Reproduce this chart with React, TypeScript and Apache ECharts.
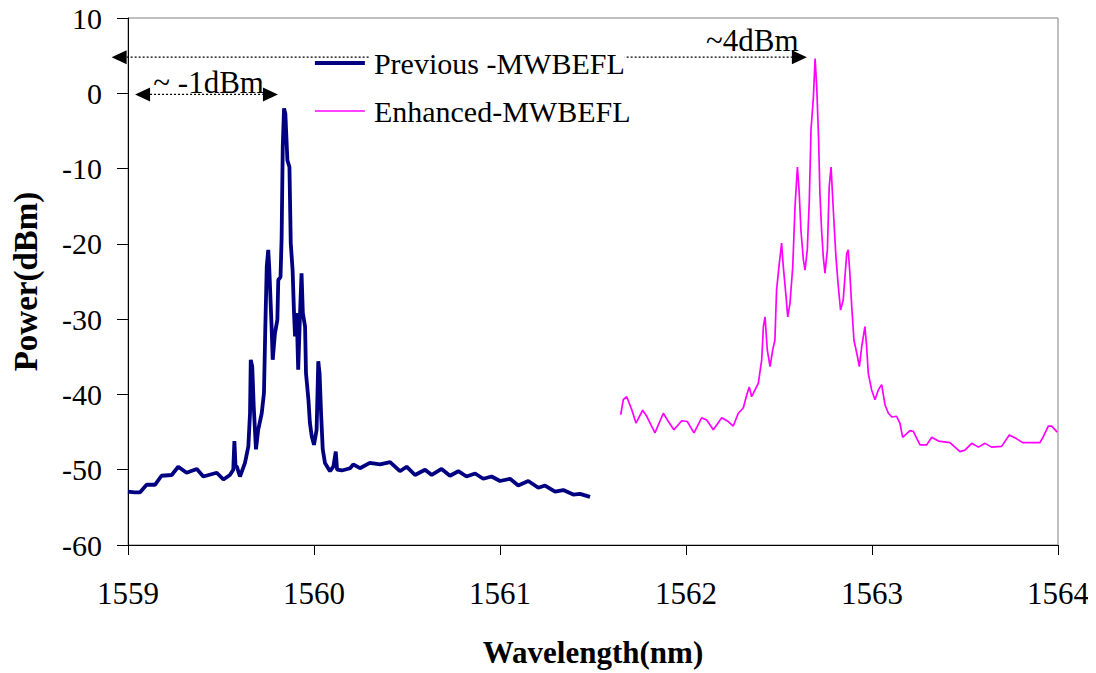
import React, { useEffect, useRef } from "react";
import * as echarts from "echarts";

// ---- Data ----
const seriesNames = ["Previous -MWBEFL", "Enhanced-MWBEFL"];
const seriesColors = ["#000080", "#ff00ff"];

const prevWavelength = [
  1559.0, 1559.035, 1559.065, 1559.1, 1559.145, 1559.18, 1559.235, 1559.27, 1559.315, 1559.37,
  1559.405, 1559.477, 1559.513, 1559.548, 1559.566, 1559.572, 1559.578, 1559.585, 1559.602, 1559.629,
  1559.647, 1559.656, 1559.66, 1559.668, 1559.676, 1559.688, 1559.7, 1559.719, 1559.731, 1559.738,
  1559.746, 1559.754, 1559.76, 1559.772, 1559.778, 1559.79, 1559.803, 1559.808, 1559.82, 1559.826,
  1559.832, 1559.839, 1559.846, 1559.857, 1559.868, 1559.875, 1559.885, 1559.892, 1559.898, 1559.907,
  1559.915, 1559.925, 1559.933, 1559.94, 1559.952, 1559.957, 1559.97, 1559.978, 1559.988, 1560.0,
  1560.014, 1560.023, 1560.03, 1560.038, 1560.047, 1560.059, 1560.086, 1560.104, 1560.117, 1560.124,
  1560.15, 1560.194, 1560.211, 1560.247, 1560.3, 1560.355, 1560.409, 1560.462, 1560.498, 1560.543,
  1560.597, 1560.633, 1560.686, 1560.731, 1560.776, 1560.82, 1560.866, 1560.91, 1560.955, 1561.0,
  1561.054, 1561.098, 1561.152, 1561.206, 1561.242, 1561.296, 1561.34, 1561.394, 1561.43, 1561.484,
];
const prevPower = [
  -52.9, -53.0, -53.0, -52.0, -52.0, -50.8, -50.7, -49.6, -50.4, -49.9,
  -50.9, -50.4, -51.3, -50.7, -50.0, -46.2, -49.5, -49.6, -50.9, -49.1,
  -46.9, -42.5, -35.4, -36.3, -41.6, -47.3, -44.7, -42.5, -39.8, -31.4,
  -23.0, -20.8, -23.5, -31.0, -35.4, -31.9, -30.1, -24.8, -24.4, -19.1,
  -7.1, -2.0, -2.7, -8.9, -9.8, -19.9, -23.5, -28.8, -32.3, -29.2,
  -36.7, -29.2, -23.9, -29.2, -31.0, -37.2, -40.7, -43.8, -45.6, -46.7,
  -44.7, -35.6, -37.2, -42.5, -47.3, -49.1, -50.2, -49.6, -47.6, -50.0,
  -50.1, -49.8, -49.3, -49.8, -49.1, -49.3, -49.0, -50.2, -49.6, -50.7,
  -50.0, -50.7, -49.9, -50.8, -50.2, -50.9, -50.5, -51.2, -50.9, -51.5,
  -51.2, -52.1, -51.5, -52.4, -52.1, -52.9, -52.7, -53.3, -53.2, -53.6,
];

const enhWavelength = [
  1561.649, 1561.663, 1561.681, 1561.708, 1561.731, 1561.767, 1561.789, 1561.833, 1561.878, 1561.905,
  1561.935, 1561.977, 1562.007, 1562.043, 1562.084, 1562.111, 1562.147, 1562.192, 1562.227, 1562.254,
  1562.281, 1562.308, 1562.326, 1562.34, 1562.353, 1562.371, 1562.389, 1562.407, 1562.416, 1562.425,
  1562.437, 1562.452, 1562.466, 1562.478, 1562.487, 1562.5, 1562.514, 1562.523, 1562.538, 1562.547,
  1562.559, 1562.574, 1562.586, 1562.599, 1562.608, 1562.618, 1562.631, 1562.64, 1562.652, 1562.663,
  1562.672, 1562.685, 1562.694, 1562.703, 1562.713, 1562.72, 1562.729, 1562.738, 1562.747, 1562.76,
  1562.77, 1562.78, 1562.792, 1562.806, 1562.819, 1562.831, 1562.845, 1562.864, 1562.872, 1562.881,
  1562.891, 1562.903, 1562.918, 1562.932, 1562.945, 1562.962, 1562.971, 1562.98, 1562.998, 1563.016,
  1563.034, 1563.052, 1563.07, 1563.088, 1563.107, 1563.132, 1563.15, 1563.165, 1563.204, 1563.222,
  1563.258, 1563.294, 1563.321, 1563.357, 1563.419, 1563.473, 1563.5, 1563.536, 1563.572, 1563.608,
  1563.643, 1563.697, 1563.738, 1563.778, 1563.81, 1563.867, 1563.903, 1563.921, 1563.948, 1563.966,
  1563.996,
];
const enhPower = [
  -42.7, -40.7, -40.3, -42.0, -43.8, -42.1, -42.9, -45.1, -42.5, -43.6,
  -44.7, -43.5, -43.6, -45.1, -43.1, -43.4, -44.7, -43.1, -43.6, -44.2,
  -42.5, -41.8, -40.1, -39.0, -40.3, -39.4, -38.5, -35.4, -31.0, -29.7,
  -34.1, -36.3, -34.1, -32.8, -26.1, -23.0, -19.9, -23.0, -27.0, -29.7,
  -27.9, -23.0, -15.1, -9.8, -12.9, -18.2, -22.1, -23.5, -20.8, -14.2,
  -4.9, -0.5, 4.6, 0.8, -6.2, -13.3, -18.2, -21.7, -23.9, -20.8,
  -12.4, -9.8, -15.5, -21.7, -25.7, -28.8, -27.5, -21.3, -20.8, -23.9,
  -28.3, -32.8, -34.5, -36.3, -33.6, -31.0, -33.6, -37.2, -39.4, -40.7,
  -39.4, -38.7, -41.4, -42.5, -43.0, -42.9, -43.8, -45.7, -44.8, -44.9,
  -46.7, -46.7, -45.7, -46.2, -46.4, -47.6, -47.4, -46.5, -47.0, -46.5,
  -47.0, -46.9, -45.4, -45.9, -46.4, -46.4, -46.4, -45.6, -44.2, -44.2,
  -45.0,
];

// axes
const xMin = 1559;
const xMax = 1564;
const xStep = 1;
const yMin = -60;
const yMax = 10;
const yStep = 10;
const xTitle = "Wavelength(nm)";
const yTitle = "Power(dBm)";

// annotations (data coordinates)
const annotTopFrom = [1558.912, 4.8];
const annotTopTo = [1562.65, 4.8];
const annotTopLabel = "~4dBm";
const annotTopLabelX = 1562.108;
const annotLeftFrom = [1559.038, -0.15];
const annotLeftTo = [1559.806, -0.15];
const annotLeftLabel = "~ -1dBm";
const annotLeftLabelX = 1559.136;

const FONT = '"Liberation Serif", "Times New Roman", serif';

function zip(xs: number[], ys: number[]) {
  return xs.map((x, i) => [x, ys[i]]);
}

export default function App() {
  const ref = useRef<HTMLDivElement>(null);

  useEffect(() => {
    if (!ref.current) return;
    const chart = echarts.init(ref.current, null, { renderer: "svg" });
    const option: any = {
      animation: false,
      backgroundColor: "#ffffff",
      grid: {
        left: 128,
        right: 38,
        top: 18,
        bottom: 128,
        show: true,
        borderColor: "#808080",
        borderWidth: 1,
        backgroundColor: "transparent",
      },
      legend: {
        orient: "vertical",
        left: 313,
        top: 48,
        itemWidth: 50,
        itemHeight: 14,
        itemGap: 18,
        padding: 0,
        z: 10,
        data: seriesNames,
        itemStyle: { opacity: 0 },
        lineStyle: { width: "inherit" },
        textStyle: {
          fontFamily: FONT,
          fontSize: 30,
          lineHeight: 30,
          color: "#000",
          backgroundColor: "#ffffff",
          padding: [0, 0, 0, 4],
        },
      },
      xAxis: {
        type: "value",
        min: xMin,
        max: xMax,
        interval: xStep,
        name: xTitle,
        nameLocation: "middle",
        nameGap: 92,
        nameTextStyle: { fontFamily: FONT, fontSize: 31, fontWeight: "bold", color: "#000" },
        axisLine: { show: true, onZero: false, lineStyle: { color: "#000", width: 1 } },
        axisTick: { show: true, inside: false, length: 10, lineStyle: { color: "#000" } },
        axisLabel: {
          fontFamily: FONT,
          fontSize: 31,
          lineHeight: 31,
          color: "#000",
          margin: 33,
          formatter: (v: number) => String(v),
        },
        splitLine: { show: false },
      },
      yAxis: {
        type: "value",
        min: yMin,
        max: yMax,
        interval: yStep,
        name: yTitle,
        nameLocation: "middle",
        nameGap: 86,
        nameTextStyle: { fontFamily: FONT, fontSize: 33, fontWeight: "bold", color: "#000" },
        axisLine: { show: true, onZero: false, lineStyle: { color: "#000", width: 1 } },
        axisTick: { show: true, inside: false, length: 11, lineStyle: { color: "#000" } },
        axisLabel: { fontFamily: FONT, fontSize: 30, color: "#000", margin: 26 },
        splitLine: { show: false },
      },
      series: [
        {
          name: seriesNames[0],
          type: "line",
          data: zip(prevWavelength, prevPower),
          showSymbol: false,
          symbol: "none",
          color: seriesColors[0],
          lineStyle: { color: seriesColors[0], width: 3.8 },
          z: 3,
        },
        {
          name: seriesNames[1],
          type: "line",
          data: zip(enhWavelength, enhPower),
          showSymbol: false,
          symbol: "none",
          color: seriesColors[1],
          lineStyle: { color: seriesColors[1], width: 1.7 },
          z: 3,
        },
      ],
    };
    chart.setOption(option);

    const toPx = (p: number[]) => chart.convertToPixel({ gridIndex: 0 }, p) as number[];
    const L = 15;
    const H = 7;
    const arrow = (from: number[], to: number[]) => {
      const a = toPx(from);
      const b = toPx(to);
      return [
        {
          type: "line",
          z: 1,
          shape: { x1: a[0] + L, y1: a[1], x2: b[0] - L, y2: b[1] },
          style: { stroke: "#000", lineWidth: 1.3, lineDash: [2, 2] },
        },
        {
          type: "polygon",
          z: 1,
          shape: { points: [[a[0], a[1]], [a[0] + L, a[1] - H], [a[0] + L, a[1] + H]] },
          style: { fill: "#000" },
        },
        {
          type: "polygon",
          z: 1,
          shape: { points: [[b[0], b[1]], [b[0] - L, b[1] - H], [b[0] - L, b[1] + H]] },
          style: { fill: "#000" },
        },
      ];
    };
    const topY = toPx(annotTopFrom)[1];
    const leftY = toPx(annotLeftFrom)[1];
    const graphic = [
      ...arrow(annotTopFrom, annotTopTo),
      ...arrow(annotLeftFrom, annotLeftTo),
      {
        type: "text",
        z: 1,
        x: toPx([annotTopLabelX, 0])[0],
        y: topY - 1,
        style: {
          text: annotTopLabel,
          fontFamily: FONT,
          fontSize: 31,
          fill: "#000",
          align: "left",
          verticalAlign: "bottom",
        },
      },
      {
        type: "text",
        z: 1,
        x: toPx([annotLeftLabelX, 0])[0],
        y: leftY + 4,
        style: {
          text: annotLeftLabel,
          fontFamily: FONT,
          fontSize: 31,
          fill: "#000",
          align: "left",
          verticalAlign: "bottom",
        },
      },
    ];
    chart.setOption({ graphic });

    return () => {
      chart.dispose();
    };
  }, []);

  return <div ref={ref} style={{ width: 1096, height: 673, marginLeft: -8, marginTop: -8 }} />;
}
